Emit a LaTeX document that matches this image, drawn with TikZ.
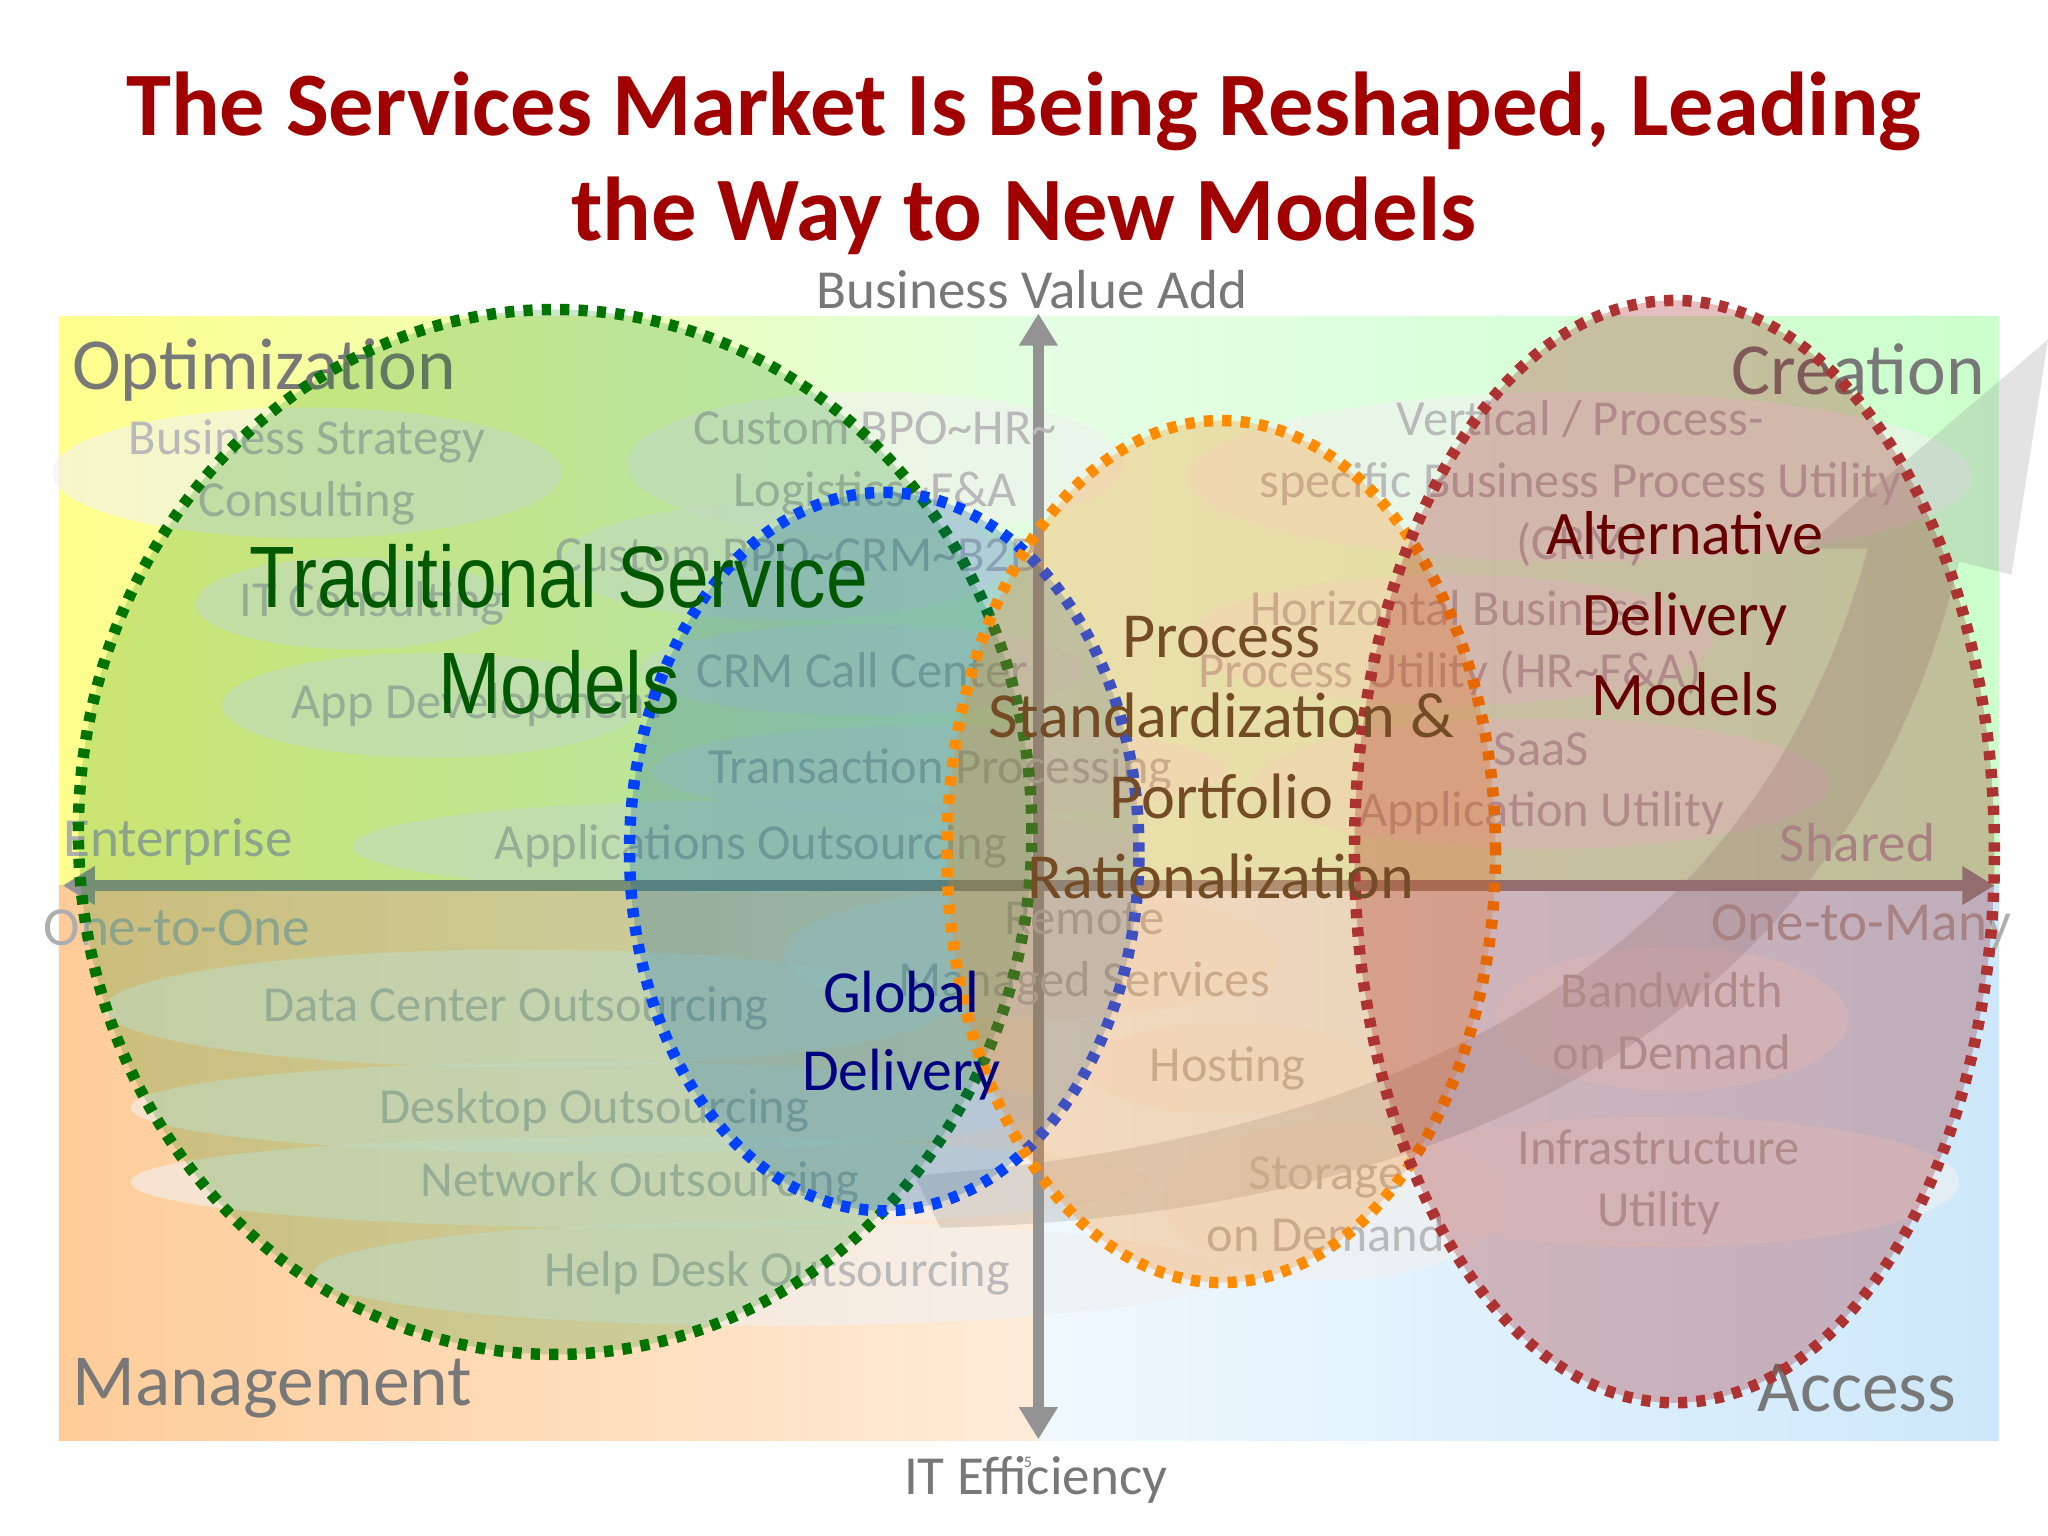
\documentclass[tikz,border=0pt]{standalone}
\usepackage{fontspec}
\setmainfont{Carlito}
\newfontfamily\arialf{Liberation Sans}
\usetikzlibrary{shapes.geometric,arrows.meta}
\definecolor{titlered}{RGB}{160,0,0}
\definecolor{axgray}{RGB}{120,120,120}
\definecolor{fadetxt}{RGB}{185,185,185}
\definecolor{qblue}{RGB}{205,232,250}
\tikzset{
 x=0.02cm,y=-0.02cm,
 ew/.style={minimum width=#1*0.02cm},
 eh/.style={minimum height=#1*0.02cm},
 corner/.style={text=axgray,font=\fontsize{32}{34}\selectfont,inner sep=0},
 side/.style={text=axgray!60,font=\fontsize{24}{26}\selectfont,inner sep=0},
 fade/.style={ellipse,fill=gray!12,fill opacity=0.6,draw=none,inner sep=0},
 fadetext/.style={text=fadetxt,font=\fontsize{22}{27}\selectfont,align=center},
 bigell/.style={ellipse,line width=5pt,dash pattern=on 4pt off 4pt,inner sep=0},
}
\begin{document}
\begin{tikzpicture}
\useasboundingbox (0,0) rectangle (1568,1176);
\fill[white] (0,0) rectangle (1568,1176);
% quadrants
\shade[left color=yellow!45,right color=green!12] (45,242) rectangle (795,678);
\shade[left color=green!10,right color=green!20] (795,242) rectangle (1530,678);
\shade[left color=orange!40,right color=orange!15] (45,678) rectangle (795,1103);
\shade[left color=qblue!30,right color=qblue] (795,678) rectangle (1530,1103);
% faded ellipses
\node[fade,ew=390,eh=100] (e1) at (235,362) {};
\node[fade,ew=380,eh=110] (e2) at (670,355) {};
\node[fade,ew=340,eh=90] (e3) at (600,430) {};
\node[fade,ew=240,eh=70] (e4) at (270,462) {};
\node[fade,ew=320,eh=80] (e5) at (330,540) {};
\node[fade,ew=340,eh=70] (e6) at (660,513) {};
\node[fade,ew=440,eh=70] (e7) at (720,590) {};
\node[fade,ew=600,eh=70] (e8) at (570,648) {};
\node[fade,ew=380,eh=100] (e9) at (790,730) {};
\node[fade,ew=640,eh=90] (e10) at (400,772) {};
\node[fade,ew=700,eh=70] (e11) at (450,848) {};
\node[fade,ew=780,eh=70] (e12) at (490,905) {};
\node[fade,ew=700,eh=80] (e13) at (590,975) {};
\node[fade,ew=220,eh=70] (e14) at (940,818) {};
\node[fade,ew=260,eh=120] (e15) at (1020,920) {};
\node[fade,ew=600,eh=130] (e16) at (1210,365) {};
\node[fade,ew=400,eh=100] (e17) at (1110,490) {};
\node[fade,ew=440,eh=100] (e18) at (1180,600) {};
\node[fade,ew=270,eh=110] (e19) at (1280,780) {};
\node[fade,ew=460,eh=100] (e20) at (1270,905) {};
% big faded arrow
\fill[gray,opacity=0.22] (700,900) .. controls (1100,870) and (1350,720) .. (1430,420) -- (1380,420) -- (1568,260) -- (1540,440) -- (1500,430) .. controls (1420,760) and (1150,930) .. (720,940) -- cycle;
% axes
\draw[axgray!80,line width=5pt,{Triangle[length=14pt,width=16pt]}-{Triangle[length=14pt,width=16pt]}] (795,1102) -- (795,240);
\draw[axgray!80,line width=5pt,{Triangle[length=14pt,width=16pt]}-{Triangle[length=14pt,width=16pt]}] (48,678) -- (1527,678);
% faded texts
\node[fadetext] (t1) at (235,362) {Business Strategy\\Consulting};
\node[fadetext] (t2) at (670,355) {Custom BPO\textasciitilde HR\textasciitilde\\Logistics\textasciitilde F\&A};
\node[fadetext] (t3) at (610,425) {Custom BPO\textasciitilde CRM\textasciitilde B2B};
\node[fadetext] (t4) at (285,462) {IT Consulting};
\node[fadetext] (t5) at (365,540) {App Development};
\node[fadetext] (t6) at (660,513) {CRM Call Center};
\node[fadetext] (t7) at (720,590) {Transaction Processing};
\node[fadetext] (t8) at (575,648) {Applications Outsourcing};
\node[fadetext] (t9) at (830,730) {Remote\\Managed Services};
\node[fadetext] (t10) at (395,772) {Data Center Outsourcing};
\node[fadetext] (t11) at (455,850) {Desktop Outsourcing};
\node[fadetext] (t12) at (490,906) {Network Outsourcing};
\node[fadetext] (t13) at (595,975) {Help Desk Outsourcing};
\node[fadetext] (t14) at (940,818) {Hosting};
\node[fadetext] (t15) at (1015,922) {Storage\\on Demand};
\node[fadetext] (t16) at (1210,370) {Vertical / Process-\\specific Business Process Utility\\(CRM)};
\node[fadetext] (t17) at (1110,492) {Horizontal Business\\Process Utility (HR\textasciitilde F\&A)};
\node[fadetext] (t18) at (1180,600) {SaaS\\Application Utility};
\node[fadetext] (t19) at (1280,782) {Bandwidth\\on Demand};
\node[fadetext] (t20) at (1270,905) {Infrastructure\\Utility};
% corner & side labels
\node[corner,anchor=west] (opt) at (55,283) {Optimization};
\node[corner,anchor=east] (cre) at (1520,283) {Creation};
\node[corner,anchor=west] (man) at (55,1063) {Management};
\node[corner,anchor=east] (acc) at (1498,1063) {Access};
\node[side,anchor=west] (ent) at (48,645) {Enterprise};
\node[side,anchor=west] (oto) at (33,710) {One-to-One};
\node[side,anchor=east] (sha) at (1482,645) {Shared};
\node[side,anchor=east] (otm) at (1540,710) {One-to-Many};
\node[text=axgray,font=\fontsize{24}{26}\selectfont] (bva) at (790,222) {Business Value Add};
\node[text=axgray,font=\fontsize{24}{26}\selectfont] (ite) at (793,1133) {IT Efficiency};
\node[text=axgray,font=\fontsize{7}{8}\selectfont] (pg) at (787,1120) {5};
% big ellipses
\node[bigell,draw=green!45!black,fill=green!50!black,fill opacity=0.2,ew=730,eh=800] (gr) at (425,637) {};
\node[bigell,draw=blue!75!cyan,fill=teal!70!blue,fill opacity=0.25,ew=390,eh=550] (bl) at (677,652) {};
\node[bigell,draw=orange!90!yellow,fill=orange,fill opacity=0.25,ew=420,eh=660] (or) at (935,652) {};
\node[bigell,draw=red!60!black!80,fill=red!60!black,fill opacity=0.25,ew=490,eh=844] (rd) at (1282,652) {};
% main labels
\node[align=center,font=\arialf\fontsize{38}{46}\selectfont,text=green!35!black] (tsm) at (428,482) {\scalebox{0.86}[1]{Traditional Service}\\\scalebox{0.86}[1]{Models}};
\node[align=center,font=\fontsize{26}{34}\selectfont,text=blue!50!black] (gd) at (690,793) {Global\\Delivery};
\node[align=center,font=\fontsize{28}{35}\selectfont,text=brown!60!black] (ps) at (935,580) {Process\\Standardization \&\\Portfolio\\Rationalization};
\node[align=center,font=\fontsize{27}{35}\selectfont,text=red!40!black] (adm) at (1290,470) {Alternative\\Delivery\\Models};
% title
\node[align=center,font=\bfseries\fontsize{39.5}{46}\selectfont,text=titlered] (title) at (784,125) {The Services Market Is Being Reshaped, Leading\\the Way to New Models};
\end{tikzpicture}
\end{document}
